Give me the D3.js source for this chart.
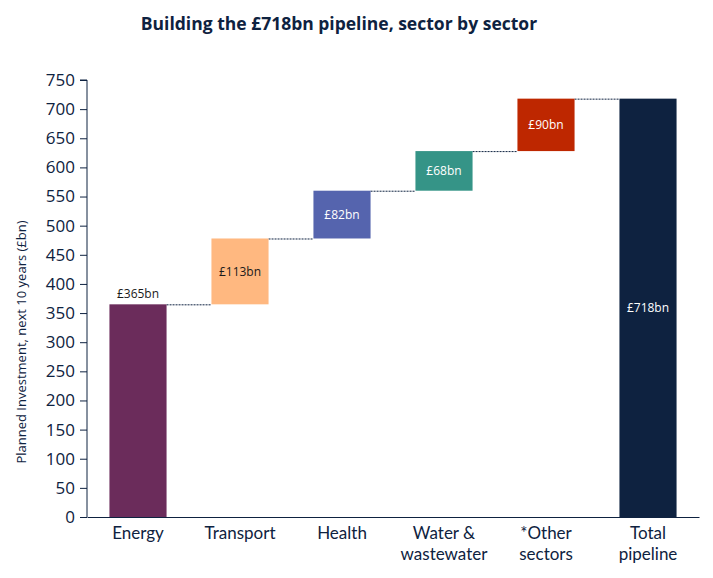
<!DOCTYPE html>
<html>
<head>
<meta charset="utf-8">
<script src="https://cdn.jsdelivr.net/npm/d3@7"></script>
<style>
  body { margin: 0; background: #fff; }
  text { font-family: "Open Sans", "Noto Sans", sans-serif; }
</style>
</head>
<body>
<div id="chart"></div>
<script>
// sectors and their planned investment (£bn)
const sectors = ["Energy", "Transport", "Health", "Water & wastewater", "*Other sectors", "Total pipeline"];
const labelLines = [["Energy"], ["Transport"], ["Health"], ["Water &", "wastewater"], ["*Other", "sectors"], ["Total", "pipeline"]];
const amounts = [365, 113, 82, 68, 90, 718];
const isTotal = [false, false, false, false, false, true];
const barColors = ["#6b2c5b", "#ffb880", "#5564ae", "#359487", "#be2700", "#0e2240"];
const labelColors = ["#1a1a1a", "#1a1a1a", "#ffffff", "#ffffff", "#ffffff", "#ffffff"];
const yTicks = [0, 50, 100, 150, 200, 250, 300, 350, 400, 450, 500, 550, 600, 650, 700, 750];

const width = 713;
const height = 578;
const margin = {left: 87, right: 14, top: 80, bottom: 61};
const ink = "#0e2240";

// running start / end for each step
let running = 0;
const steps = sectors.map((s, i) => {
    let start, end;
    if (isTotal[i]) { start = 0; end = amounts[i]; }
    else { start = running; end = running + amounts[i]; running = end; }
    return {name: s, lines: labelLines[i], value: amounts[i], start: start, end: end, i: i};
});

const xScale = d3.scaleBand()
    .domain(sectors)
    .range([margin.left, width - margin.right])
    .paddingInner(0.44)
    .paddingOuter(0.22);

const yScale = d3.scaleLinear()
    .domain([0, 750])
    .range([height - margin.bottom, margin.top]);

const svg = d3.select("#chart")
    .append("svg")
    .attr("width", width)
    .attr("height", height);

svg.append("text")
    .attr("x", 339)
    .attr("y", 30)
    .attr("text-anchor", "middle")
    .attr("font-size", "17.5px")
    .attr("font-weight", "bold")
    .attr("fill", ink)
    .text("Building the £718bn pipeline, sector by sector");

// y axis
const yAxis = svg.append("g")
    .attr("transform", `translate(${margin.left}, 0)`)
    .call(d3.axisLeft(yScale).tickValues(yTicks).tickSize(7).tickPadding(5));
yAxis.selectAll("text").attr("font-size", "17px").attr("fill", ink)
    .style("font-family", "'Open Sans', sans-serif");
yAxis.selectAll("line, path").attr("stroke", ink);
yAxis.select(".domain").attr("d", `M-7,${yScale(750)}H0V${yScale(0)}`);

svg.append("text")
    .attr("transform", `translate(26, 342) rotate(-90)`)
    .attr("text-anchor", "middle")
    .attr("font-size", "13px")
    .attr("fill", ink)
    .text("Planned Investment, next 10 years (£bn)");

// x axis
const xAxis = svg.append("g")
    .attr("transform", `translate(0, ${height - margin.bottom})`)
    .call(d3.axisBottom(xScale).tickSize(0).tickSizeOuter(0));
xAxis.select(".domain").attr("stroke", ink);
xAxis.selectAll(".tick text").remove();
xAxis.selectAll(".tick").each(function(d, i) {
    const tick = d3.select(this);
    labelLines[i].forEach((ln, k) => {
        tick.append("text")
            .attr("fill", ink)
            .attr("font-size", "17px")
            .attr("text-anchor", "middle")
            .attr("y", 22 + k * 20.5)
            .style("font-family", "Lato, 'Open Sans', sans-serif")
            .text(ln);
    });
});

// connectors
svg.selectAll(".connector")
    .data(steps.slice(0, -1))
    .enter()
    .append("line")
        .attr("class", "connector")
        .attr("x1", (d) => xScale(d.name) + xScale.bandwidth())
        .attr("x2", (d) => xScale(sectors[d.i + 1]))
        .attr("y1", (d) => yScale(d.end) + 0.5)
        .attr("y2", (d) => yScale(d.end) + 0.5)
        .attr("stroke", ink)
        .attr("stroke-width", 1)
        .attr("stroke-dasharray", "2,1");

// bars
svg.selectAll(".bar")
    .data(steps)
    .enter()
    .append("rect")
        .attr("class", "bar")
        .attr("x", (d) => xScale(d.name))
        .attr("y", (d) => yScale(d.end))
        .attr("width", xScale.bandwidth())
        .attr("height", (d) => yScale(d.start) - yScale(d.end))
        .attr("fill", (d) => barColors[d.i]);

// value labels
svg.selectAll(".val")
    .data(steps)
    .enter()
    .append("text")
        .attr("class", "val")
        .attr("x", (d) => xScale(d.name) + xScale.bandwidth() / 2)
        .attr("y", (d) => d.i === 0 ? yScale(d.end) - 6 : (yScale(d.start) + yScale(d.end)) / 2)
        .attr("dy", (d) => d.i === 0 ? 0 : "0.35em")
        .attr("text-anchor", "middle")
        .attr("font-size", "12px")
        .attr("fill", (d) => labelColors[d.i])
        .text((d) => "£" + d.value + "bn");
</script>
</body>
</html>
